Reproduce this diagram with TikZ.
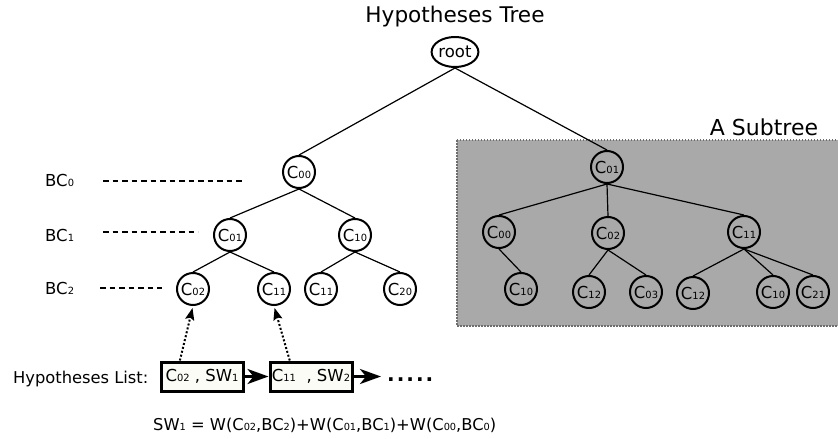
\documentclass[tikz,border=0pt]{standalone}
\usepackage{fontspec}
\setmainfont{DejaVu Sans}
\usetikzlibrary{arrows.meta,shapes.geometric,calc}
\definecolor{subgray}{HTML}{A9A9A9}
\definecolor{subborder}{HTML}{6E6E6E}
\definecolor{boxfill}{HTML}{FCFCF6}
\newcommand\sbs[1]{\scalebox{0.6}{#1}}
\begin{document}
\begin{tikzpicture}[x=1pt,y=-1pt,
  hnode/.style={circle,draw,line width=2pt,minimum size=32pt,inner sep=0pt,font=\fontsize{16.5}{16}\selectfont},
  edge/.style={line width=1.2pt},
  bclabel/.style={anchor=base west,inner sep=0pt,font=\fontsize{16.5}{16}\selectfont},
  guide/.style={line width=1.3pt,dash pattern=on 5.5pt off 4pt},
  listbox/.style={draw,line width=3pt,fill=boxfill,minimum width=82pt,minimum height=29pt,inner sep=0pt,font=\fontsize{16.5}{16}\selectfont},
  listarrow/.style={line width=3pt,-{Stealth[length=21pt,width=15pt,inset=6pt]}},
  ptr/.style={line width=2pt,dash pattern=on 2pt off 2pt,-{Stealth[length=12pt,width=9pt,inset=2pt]},shorten >=2pt}]
\useasboundingbox (0,0) rectangle (838,439);
% subtree background
\path[fill=subgray,draw=subborder,line width=1.5pt,dash pattern=on 1.5pt off 1.5pt] (457,140) rectangle (838.5,326);
\node[anchor=base,inner sep=0pt,font=\fontsize{22}{22}\selectfont] (subtitle) at (764,135) {A Subtree};
% title and root
\node[anchor=base,inner sep=0pt,font=\fontsize{21.6}{22}\selectfont] (title) at (455,23) {Hypotheses Tree};
\node[ellipse,draw,line width=2pt,minimum width=46pt,minimum height=30pt,inner sep=0pt,font=\fontsize{16.5}{16}\selectfont] (root) at (455,52) {root};
% left tree
\node[hnode] (l00) at (299,172) {C\sbs{00}};
\node[hnode] (l01) at (230,235) {C\sbs{01}};
\node[hnode] (l10) at (355,235) {C\sbs{10}};
\node[hnode] (l02) at (193,289) {C\sbs{02}};
\node[hnode] (l11) at (274,289) {C\sbs{11}};
\node[hnode] (l11b) at (321,289) {C\sbs{11}};
\node[hnode] (l20) at (400,289) {C\sbs{20}};
% right subtree
\node[hnode] (r01) at (607,167) {C\sbs{01}};
\node[hnode] (r00) at (499,232) {C\sbs{00}};
\node[hnode] (r02) at (608,233) {C\sbs{02}};
\node[hnode] (r11) at (744,232) {C\sbs{11}};
\node[hnode] (r10) at (521,289) {C\sbs{10}};
\node[hnode] (r12) at (589,292) {C\sbs{12}};
\node[hnode] (r03) at (646,292) {C\sbs{03}};
\node[hnode] (r12b) at (693,293) {C\sbs{12}};
\node[hnode] (r10b) at (773,292) {C\sbs{10}};
\node[hnode] (r21) at (813,292) {C\sbs{21}};
% edges
\foreach \p/\c in {root/l00,root/r01,l00/l01,l00/l10,l01/l02,l01/l11,l10/l11b,l10/l20,
  r01/r00,r01/r02,r01/r11,r00/r10,r02/r12,r02/r03,r11/r12b,r11/r10b,r11/r21}
  \draw[edge] (\p.south) -- (\c.north);
% BC labels and guides
\node[bclabel] (bc0) at (45,186) {BC\sbs{0}};
\node[bclabel] (bc1) at (45,241) {BC\sbs{1}};
\node[bclabel] (bc2) at (45,294) {BC\sbs{2}};
\coordinate (g0a) at (103,181); \coordinate (g0b) at (242,181);
\coordinate (g1a) at (103,232); \coordinate (g1b) at (198,232);
\coordinate (g2a) at (100,288); \coordinate (g2b) at (162,288);
\draw[guide] (g0a) -- (g0b);
\draw[guide] (g1a) -- (g1b);
\draw[guide] (g2a) -- (g2b);
% hypotheses list
\node[anchor=base west,inner sep=0pt,font=\fontsize{16.3}{16}\selectfont] (hl) at (13,383) {Hypotheses List:};
\node[listbox] (b1) at (202,376.5) {C\sbs{02} , SW\sbs{1}};
\node[listbox] (b2) at (311,376.5) {C\sbs{11}\ \ , SW\sbs{2}};
\coordinate (aend) at (381,376.5);
\draw[listarrow] (b1.east) -- (b2.west);
\draw[listarrow] (b2.east) -- (aend);
\node[anchor=base west,inner sep=0pt,font=\bfseries\fontsize{20}{20}\selectfont] (dots) at (387,381) {.\kern2pt.\kern2pt.\kern2pt.\kern2pt.};
\draw[ptr] ($(b1.north west)!0.24!(b1.north east)$) -- (l02.south);
\draw[ptr] ($(b2.north west)!0.25!(b2.north east)$) -- (l11.south);
% formula
\node[anchor=base west,inner sep=0pt,font=\fontsize{16.3}{16}\selectfont] (eq) at (153,430) {SW\sbs{1} = W(C\sbs{02},BC\sbs{2})+W(C\sbs{01},BC\sbs{1})+W(C\sbs{00},BC\sbs{0})};
\end{tikzpicture}
\end{document}
